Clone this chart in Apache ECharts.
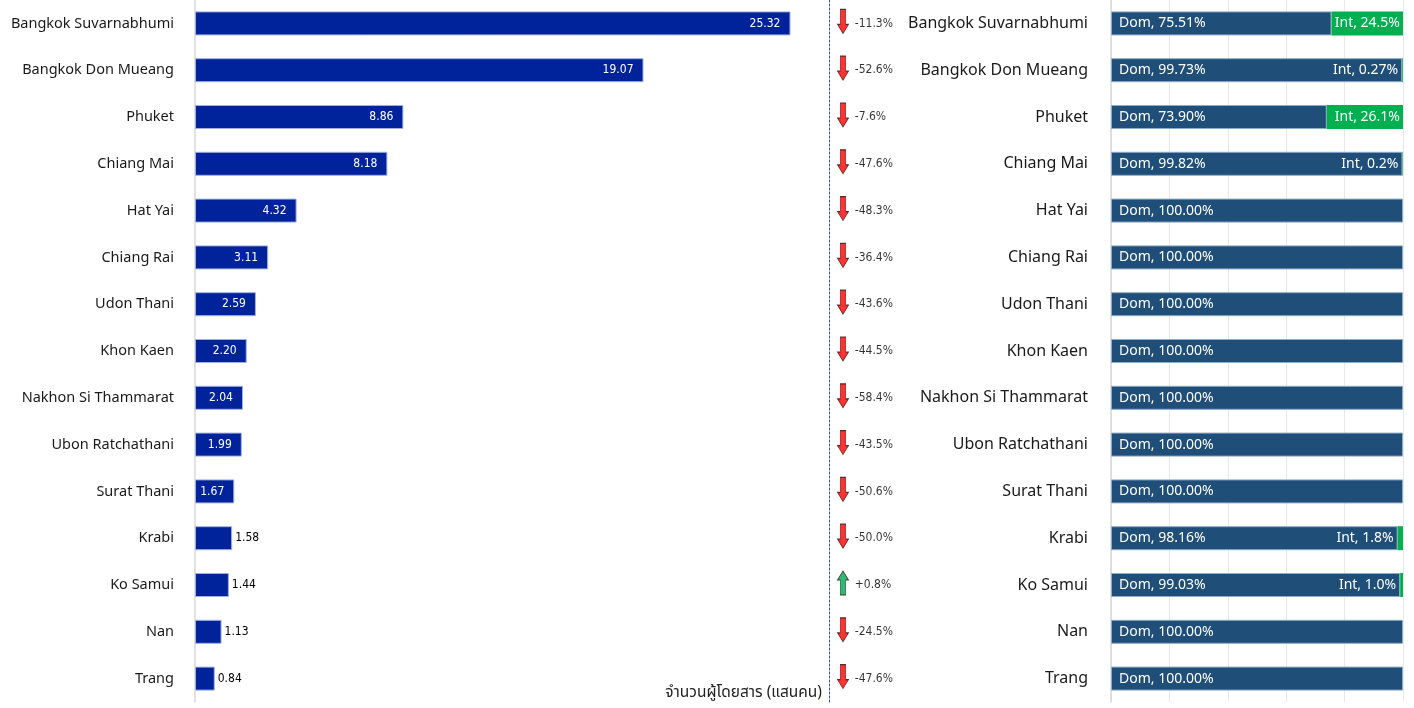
<!DOCTYPE html>
<html>
<head>
<meta charset="utf-8">
<script src="https://cdn.jsdelivr.net/npm/echarts@6/dist/echarts.min.js"></script>
<style>
  html, body { margin: 0; padding: 0; background: #ffffff; }
  #chart { width: 1414px; height: 708px; }
</style>
</head>
<body>
<div id="chart"></div>
<script>
const airports = ['Bangkok Suvarnabhumi', 'Bangkok Don Mueang', 'Phuket', 'Chiang Mai', 'Hat Yai', 'Chiang Rai', 'Udon Thani', 'Khon Kaen', 'Nakhon Si Thammarat', 'Ubon Ratchathani', 'Surat Thani', 'Krabi', 'Ko Samui', 'Nan', 'Trang'];
const passengers = [25.32, 19.07, 8.86, 8.18, 4.32, 3.11, 2.59, 2.20, 2.04, 1.99, 1.67, 1.58, 1.44, 1.13, 0.84];
const changePct = [-11.3, -52.6, -7.6, -47.6, -48.3, -36.4, -43.6, -44.5, -58.4, -43.5, -50.6, -50.0, 0.8, -24.5, -47.6];
const domShare = [75.51, 99.73, 73.90, 99.82, 100, 100, 100, 100, 100, 100, 100, 98.16, 99.03, 100, 100];
const intShare = [24.49, 0.27, 26.10, 0.18, 0, 0, 0, 0, 0, 0, 0, 1.84, 0.97, 0, 0];
const intLabels = ['24.5%', '0.27%', '26.1%', '0.2%', '', '', '', '', '', '', '', '1.8%', '1.0%', '', ''];
const axisTitle = 'จำนวนผู้โดยสาร (แสนคน)';

const mainFont = "'Noto Sans', 'DejaVu Sans', sans-serif";
const narrowFont = "'Liberation Sans Narrow', 'DejaVu Sans Condensed', 'Liberation Sans', sans-serif";
const thaiFont = "'Noto Sans Thai', 'Noto Sans', 'Loma', 'Garuda', 'DejaVu Sans', sans-serif";

const downArrow = 'path://M2.5,0 L7.5,0 L7.5,15 L10,15 L5,24 L0,15 L2.5,15 Z';
const upArrow = 'path://M5,0 L10,9 L7.5,9 L7.5,24 L2.5,24 L2.5,9 L0,9 Z';

const chart = echarts.init(document.getElementById('chart'), null, { renderer: 'canvas' });

const passengerData = passengers.map(v => ({
  value: v,
  label: v < 1.6
    ? { position: 'right', distance: 3, color: '#000000' }
    : { position: 'insideRight', distance: 10, color: '#ffffff' }
}));

const arrowData = changePct.map((v, i) => ({
  value: [1, i],
  symbol: v >= 0 ? upArrow : downArrow,
  itemStyle: { color: v >= 0 ? '#00a650' : '#ff0000' }
}));

const intData = intShare.map((v, i) => ({
  value: v,
  label: v === 0 ? { show: false } : (v > 5
    ? { show: true, position: 'insideRight', distance: 3 }
    : { show: true, position: 'left', distance: 4 })
}));

const option = {
  animation: false,
  backgroundColor: '#ffffff',
  grid: [
    { left: 195, top: -2, width: 635, height: 704 },
    { left: 829, top: -2, width: 70, height: 704 },
    { left: 1111, top: -2, width: 292, height: 704 }
  ],
  xAxis: [
    {
      gridIndex: 0, type: 'value', min: 0, max: 27,
      axisLine: { show: false }, axisTick: { show: false }, axisLabel: { show: false }, splitLine: { show: false },
      name: axisTitle, nameLocation: 'end', nameGap: -8,
      nameTextStyle: { align: 'right', verticalAlign: 'bottom', fontSize: 15.5, color: '#222', fontFamily: thaiFont, padding: [0, 0, 0, 0] }
    },
    {
      gridIndex: 1, type: 'value', min: 0, max: 5,
      axisLine: { show: false }, axisTick: { show: false }, axisLabel: { show: false }, splitLine: { show: false }
    },
    {
      gridIndex: 2, type: 'value', min: 0, max: 100, interval: 20,
      axisLine: { show: false }, axisTick: { show: false }, axisLabel: { show: false },
      splitLine: { show: true, lineStyle: { color: '#e8e8e8', width: 1 } }
    }
  ],
  yAxis: [
    {
      gridIndex: 0, type: 'category', data: airports, inverse: true,
      axisLine: { show: true, lineStyle: { color: '#d9d9d9', width: 1.5 } },
      axisTick: { show: false },
      axisLabel: { margin: 21, fontSize: 14.5, color: '#1a1a1a', fontFamily: mainFont }
    },
    {
      gridIndex: 1, type: 'category', data: airports, inverse: true,
      axisLine: { show: true, lineStyle: { color: '#2f4f9a', width: 1, type: [2, 2] } },
      axisTick: { show: false }, axisLabel: { show: false }
    },
    {
      gridIndex: 2, type: 'category', data: airports, inverse: true,
      axisLine: { show: true, lineStyle: { color: '#d9d9d9', width: 1.5 } },
      axisTick: { show: false },
      axisLabel: { margin: 23, fontSize: 16, color: '#1a1a1a', fontFamily: mainFont }
    }
  ],
  series: [
    {
      type: 'bar', xAxisIndex: 0, yAxisIndex: 0, data: passengerData,
      barWidth: 24,
      itemStyle: { color: '#00229a', borderColor: '#9fb0e0', borderWidth: 1 },
      label: { show: true, fontSize: 12, fontFamily: narrowFont, formatter: p => p.value.toFixed(2) }
    },
    {
      type: 'scatter', xAxisIndex: 1, yAxisIndex: 1, data: arrowData,
      symbolSize: [11, 24], symbolOffset: [0, -2],
      itemStyle: { borderColor: '#2a1010', borderWidth: 0.8 },
      label: {
        show: true, position: 'right', distance: 6, fontSize: 12, color: '#000', fontFamily: narrowFont,
        offset: [0, 2],
        formatter: p => { const v = changePct[p.dataIndex]; return (v > 0 ? '+' : '') + v.toFixed(1) + '%'; }
      }
    },
    {
      type: 'bar', stack: 'share', xAxisIndex: 2, yAxisIndex: 2, data: domShare,
      barWidth: 24,
      itemStyle: { color: '#1f4e79', borderColor: '#8fa9c8', borderWidth: 1 },
      label: {
        show: true, position: 'insideLeft', distance: 8, color: '#ffffff', fontSize: 14, fontFamily: mainFont,
        formatter: p => 'Dom, ' + p.value.toFixed(2) + '%'
      }
    },
    {
      type: 'bar', stack: 'share', xAxisIndex: 2, yAxisIndex: 2, data: intData,
      barWidth: 24,
      itemStyle: { color: '#00b050' },
      label: {
        color: '#ffffff', fontSize: 14, fontFamily: mainFont,
        formatter: p => 'Int, ' + intLabels[p.dataIndex]
      }
    }
  ]
};

chart.setOption(option);
</script>
</body>
</html>
